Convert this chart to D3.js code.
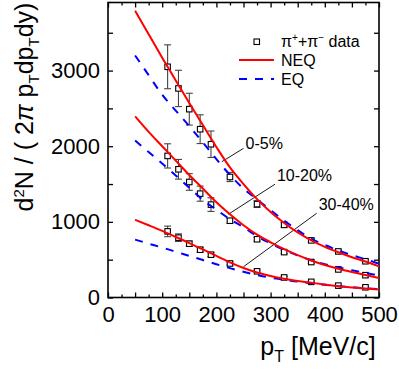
<!DOCTYPE html>
<html>
<head>
<meta charset="utf-8">
<script src="https://cdn.jsdelivr.net/npm/d3@7"></script>
<style>
  body { margin: 0; background: #fff; }
  svg { display: block; font-family: "Liberation Sans", Arial, sans-serif; }
</style>
</head>
<body>
<div id="chart"></div>
<script>
// data points (pT in MeV/c)
const ptData = [110, 130, 150, 170, 190, 225, 275, 325, 375, 425, 475];
const data05 = [3050, 2764, 2490, 2225, 2026, 1593, 1235, 960, 755, 609, 479];
const err05 = [290, 240, 210, 190, 175, 60, 45, 30, 25, 20, 20];
const data1020 = [1872, 1695, 1527, 1373, 1228, 1015, 770, 600, 469, 371, 295];
const err1020 = [160, 130, 110, 100, 90, 30, 25, 20, 15, 15, 15];
const data3040 = [874, 791, 711, 632, 566, 450, 346, 265, 207, 157, 135];
const err3040 = [70, 50, 35, 30, 25, 20, 15, 15, 10, 10, 10];

// model curves
const ptCurve = [50, 75, 100, 125, 150, 175, 200, 225, 250, 275, 300, 325, 350, 375, 400, 425, 450, 475, 500];
const neq05 = [3790, 3480, 3170, 2870, 2570, 2280, 1990, 1720, 1500, 1300, 1130, 985, 860, 755, 670, 598, 533, 475, 412];
const eq05 = [3200, 2940, 2680, 2470, 2265, 2050, 1830, 1620, 1440, 1298, 1155, 1018, 890, 777, 695, 622, 560, 505, 448];
const neq1020 = [2395, 2190, 2000, 1810, 1620, 1440, 1260, 1100, 955, 830, 730, 640, 560, 490, 430, 380, 337, 298, 258];
const eq1020 = [2075, 1923, 1772, 1613, 1450, 1290, 1160, 1035, 930, 810, 715, 630, 555, 492, 440, 398, 360, 325, 292];
const neq3040 = [1028, 955, 880, 800, 720, 635, 550, 465, 390, 330, 285, 248, 218, 195, 172, 150, 133, 119, 106];
const eq3040 = [765, 712, 660, 605, 550, 495, 440, 388, 340, 298, 262, 236, 210, 189, 168, 150, 136, 122, 110];

// centrality labels: leader line from curve to label
const labels = ["0-5%", "10-20%", "30-40%"];
const labelFrom = [[210, 1795], [222, 1100], [250, 407]];
const labelTo = [[250, 1972], [308, 1497], [385, 1113]];

const xTicks = d3.range(0, 501, 25);
const yTicks = d3.range(0, 3901, 500);

const width = 399, height = 371;
const margin = { top: 2.5, right: 20, bottom: 73.5, left: 108 };
const w = width - margin.left - margin.right;
const h = height - margin.top - margin.bottom;

const svg = d3.select("#chart").append("svg")
  .attr("width", width)
  .attr("height", height);

const chart = svg.append("g")
  .attr("transform", `translate(${margin.left},${margin.top})`);

const x = d3.scaleLinear().domain([0, 500]).range([0, w]);
const y = d3.scaleLinear().domain([0, 3900]).range([h, 0]);

// axes, ticks point inward
function styleAxis(g, isX, showLabels) {
  g.select(".domain").remove();
  g.selectAll(".tick line")
    .attr("stroke", "#000")
    .attr("stroke-width", 1.3);
  g.selectAll(".tick text")
    .style("font-size", "22px")
    .attr("fill", "#000")
    .style("display", showLabels ? null : "none");
}

const xBottom = chart.append("g")
  .attr("transform", `translate(0,${h})`)
  .call(d3.axisBottom(x).tickValues(xTicks).tickPadding(9)
    .tickSizeInner(-5).tickSizeOuter(0)
    .tickFormat(d => d % 100 === 0 ? d : ""));
styleAxis(xBottom, true, true);
xBottom.selectAll(".tick line").attr("y2", d => d % 50 === 0 ? -5 : -3);

const xTop = chart.append("g")
  .call(d3.axisTop(x).tickValues(xTicks).tickSizeInner(-5).tickSizeOuter(0));
styleAxis(xTop, true, false);
xTop.selectAll(".tick line").attr("y2", d => d % 50 === 0 ? 5 : 3);

const yLeft = chart.append("g")
  .call(d3.axisLeft(y).tickValues(yTicks).tickPadding(8)
    .tickSizeInner(-5).tickSizeOuter(0)
    .tickFormat(d => d % 1000 === 0 ? d : ""));
styleAxis(yLeft, false, true);

const yRight = chart.append("g")
  .attr("transform", `translate(${w},0)`)
  .call(d3.axisRight(y).tickValues(yTicks).tickSizeInner(-5).tickSizeOuter(0));
styleAxis(yRight, false, false);

chart.append("rect")
  .attr("width", w)
  .attr("height", h)
  .attr("fill", "none")
  .attr("stroke", "#000")
  .attr("stroke-width", 1.6);

// leader lines + labels
labels.forEach((lab, i) => {
  const [x0, y0] = labelFrom[i];
  const [x1, y1] = labelTo[i];
  chart.append("line")
    .attr("x1", x(x0)).attr("y1", y(y0))
    .attr("x2", x(x1)).attr("y2", y(y1))
    .attr("stroke", "#000")
    .attr("stroke-width", 0.9);
  chart.append("text")
    .attr("x", x(x1) + 2)
    .attr("y", y(y1) + (i === 0 ? 1 : -3))
    .style("font-size", "16px")
    .text(lab);
});

// error bars
const series = [
  { vals: data05, errs: err05 },
  { vals: data1020, errs: err1020 },
  { vals: data3040, errs: err3040 },
];
const capW = 3.5;
series.forEach(s => {
  const g = chart.append("g").attr("stroke", "#444").attr("stroke-width", 1.1);
  ptData.forEach((pt, i) => {
    const yTop = y(s.vals[i] + s.errs[i]);
    const yBot = y(s.vals[i] - s.errs[i]);
    g.append("line").attr("x1", x(pt)).attr("x2", x(pt)).attr("y1", yTop).attr("y2", yBot);
    g.append("line").attr("x1", x(pt) - capW).attr("x2", x(pt) + capW).attr("y1", yTop).attr("y2", yTop);
    g.append("line").attr("x1", x(pt) - capW).attr("x2", x(pt) + capW).attr("y1", yBot).attr("y2", yBot);
  });
});

// markers
const sq = 5.5;
series.forEach(s => {
  chart.append("g").selectAll("rect")
    .data(ptData.map((pt, i) => ({ pt, v: s.vals[i] })))
    .join("rect")
    .attr("x", d => x(d.pt) - sq / 2)
    .attr("y", d => y(d.v) - sq / 2)
    .attr("width", sq)
    .attr("height", sq)
    .attr("fill", "#fff")
    .attr("stroke", "#000")
    .attr("stroke-width", 1.1);
});

// curves
const line = d3.line()
  .x((d, i) => x(ptCurve[i]))
  .y(d => y(d))
  .curve(d3.curveMonotoneX);

[eq05, eq1020, eq3040].forEach(c => {
  chart.append("path")
    .datum(c)
    .attr("fill", "none")
    .attr("stroke", "#0000ff")
    .attr("stroke-width", 2)
    .attr("stroke-dasharray", "8,8")
    .attr("d", line);
});
[neq05, neq1020, neq3040].forEach(c => {
  chart.append("path")
    .datum(c)
    .attr("fill", "none")
    .attr("stroke", "#ff0000")
    .attr("stroke-width", 2)
    .attr("d", line);
});

// legend
const legend = svg.append("g").style("font-size", "16px");
legend.append("rect")
  .attr("x", 254).attr("y", 39)
  .attr("width", sq).attr("height", sq)
  .attr("fill", "#fff").attr("stroke", "#000").attr("stroke-width", 1.1);
const piText = legend.append("text").attr("x", 281).attr("y", 46.5);
piText.append("tspan").text("π");
piText.append("tspan").attr("dy", -6).style("font-size", "10px").text("+");
piText.append("tspan").attr("dy", 6).text("+π");
piText.append("tspan").attr("dy", -6).style("font-size", "10px").text("−");
piText.append("tspan").attr("dy", 6).text(" data");

legend.append("line")
  .attr("x1", 239).attr("x2", 274).attr("y1", 60).attr("y2", 60)
  .attr("stroke", "#ff0000").attr("stroke-width", 2);
legend.append("text").attr("x", 281).attr("y", 66).text("NEQ");
legend.append("line")
  .attr("x1", 239).attr("x2", 274).attr("y1", 79).attr("y2", 79)
  .attr("stroke", "#0000ff").attr("stroke-width", 2)
  .attr("stroke-dasharray", "8,8");
legend.append("text").attr("x", 281).attr("y", 84.5).text("EQ");

// axis titles
const xTitle = svg.append("text")
  .attr("x", 318).attr("y", 355)
  .attr("text-anchor", "middle")
  .style("font-size", "25px");
xTitle.append("tspan").text("p");
xTitle.append("tspan").attr("dy", 7).style("font-size", "16px").text("T");
xTitle.append("tspan").attr("dy", -7).text(" [MeV/c]");

const yTitle = svg.append("text")
  .attr("transform", "translate(33,107) rotate(-90)")
  .attr("text-anchor", "middle")
  .style("font-size", "25px");
yTitle.append("tspan").text("d");
yTitle.append("tspan").attr("dy", -9).style("font-size", "15px").text("2");
yTitle.append("tspan").attr("dy", 9).text("N / ( 2");
yTitle.append("tspan").style("font-style", "italic").text("π");
yTitle.append("tspan").text(" p");
yTitle.append("tspan").attr("dy", 6).style("font-size", "15px").text("T");
yTitle.append("tspan").attr("dy", -6).text("dp");
yTitle.append("tspan").attr("dy", 6).style("font-size", "15px").text("T");
yTitle.append("tspan").attr("dy", -6).text("dy)");
</script>
</body>
</html>
